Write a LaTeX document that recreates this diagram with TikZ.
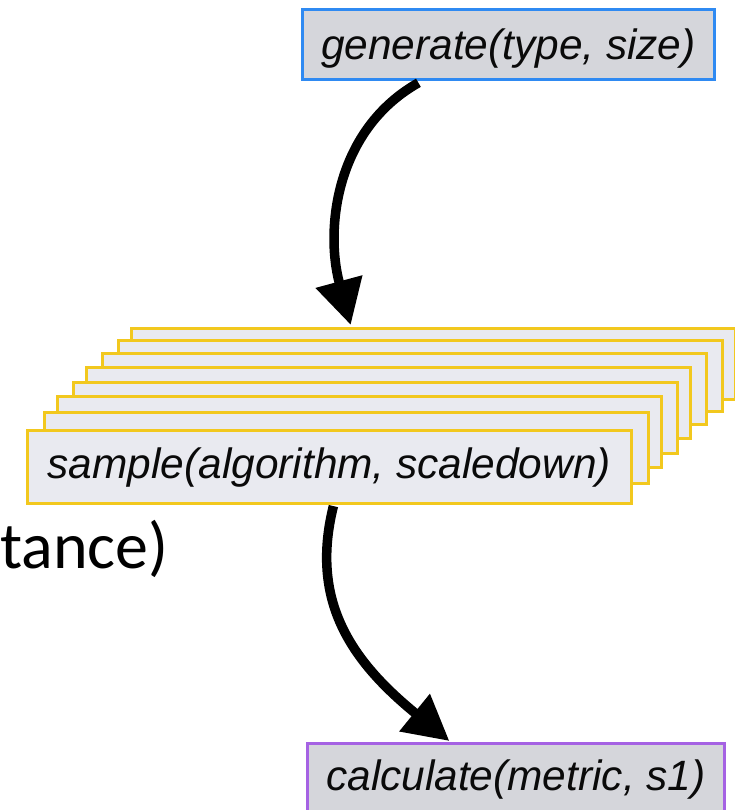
\documentclass[tikz,border=0pt]{standalone}
\usepackage{fontspec}
\setmainfont{Liberation Sans}
\newfontfamily\calibrifont{Carlito}
\usetikzlibrary{arrows.meta}
\definecolor{genblue}{HTML}{2F8AF2}
\definecolor{boxgray}{HTML}{D5D6DB}
\definecolor{stackfill}{HTML}{E9EAF0}
\definecolor{stackgold}{HTML}{F2C81E}
\definecolor{calcpurple}{HTML}{A562E3}
\definecolor{ink}{HTML}{0A0A0A}
\begin{document}
\begin{tikzpicture}[x=1pt,y=-1pt,
  box/.style={rectangle, inner sep=0pt, line width=2.8pt, anchor=north west,
    font=\fontsize{42.4}{48}\selectfont\itshape, text=ink},
  genbox/.style={box, draw=genblue, fill=boxgray},
  stackbox/.style={box, draw=stackgold, fill=stackfill},
  calcbox/.style={box, draw=calcpurple, fill=boxgray},
  flow/.style={line width=9.5pt, -{Triangle[length=45pt,width=46pt]}}]
\useasboundingbox (0,0) rectangle (735,810);
\clip (0,0) rectangle (735,810);

% source call
\node[genbox, minimum width=412pt, text height=50.5pt, text depth=19.5pt]
  (gen) at (301,8) {generate(type, size)};

% stack of repeated sample calls, back to front
\foreach \i/\l/\t in {7/130/327.3, 6/116.7/339.3, 5/101/352.3, 4/85/366,
                      3/71.7/381, 2/56/395, 1/42.7/410.7}
  \node[stackbox, minimum width=604pt, minimum height=71pt] (s\i) at (\l,\t) {};
\node[stackbox, minimum width=604pt, text height=47.7pt, text depth=25.3pt]
  (s0) at (26,429.3) {sample(algorithm, scaledown)};

% metric call
\node[calcbox, minimum width=417pt, text height=47pt, text depth=40pt]
  (calc) at (306,742) {calculate(metric, s1)};

% trailing text from the left
\node[font=\calibrifont\fontsize{66}{72}\selectfont, anchor=base west, inner sep=0pt]
  (tail) at (0,568) {tance)};

% flow arrows
\draw[flow] ([xshift=-90pt,yshift=-2pt]gen.south)
  .. controls (335,130) and (325,230) .. ([xshift=-82.7pt,yshift=2.3pt]s7.north);
\draw[flow] ([xshift=4pt,yshift=-1pt]s0.south)
  .. controls (310,600) and (350,660) .. ([xshift=-66.5pt,yshift=1pt]calc.north);
\end{tikzpicture}
\end{document}
